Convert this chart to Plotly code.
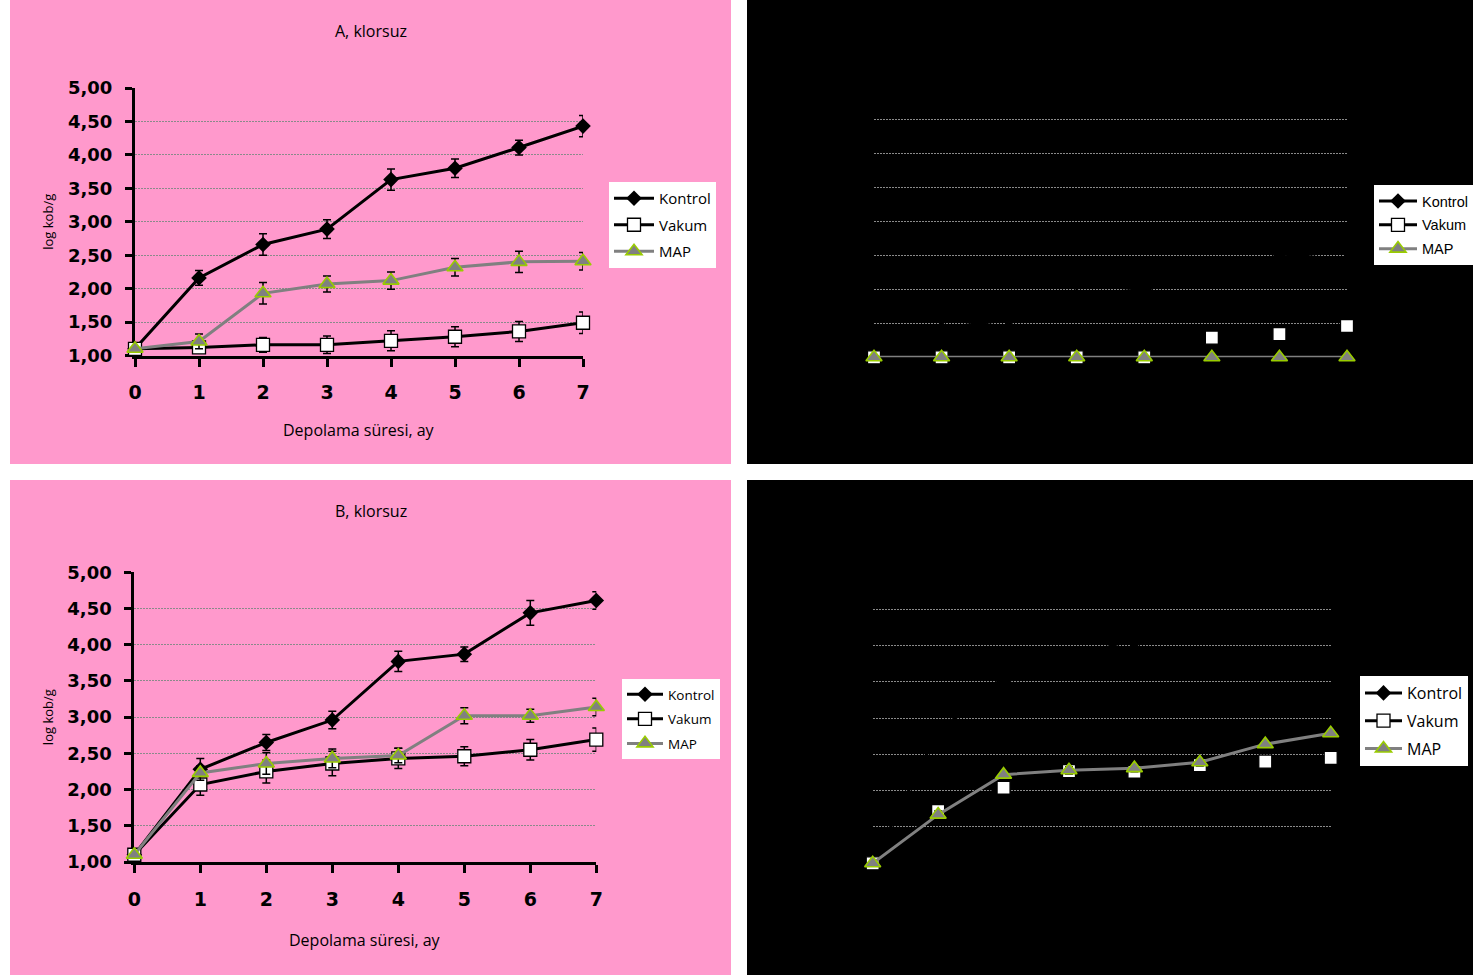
import plotly.graph_objects as go

W, H = 1473, 975

# Storage time (months)
months = [0, 1, 2, 3, 4, 5, 6, 7]

# Y axis ticks (log kob/g), decimal comma labels
y_ticks = [1.0, 1.5, 2.0, 2.5, 3.0, 3.5, 4.0, 4.5, 5.0]
y_tick_labels = ["1,00", "1,50", "2,00", "2,50", "3,00", "3,50", "4,00", "4,50", "5,00"]

series_names = ["Kontrol", "Vakum", "MAP"]
panel_titles = ["A, klorsuz", "A, klorlu", "B, klorsuz", "B, klorlu"]

# A, klorsuz
a_klorsuz_kontrol = [1.10, 2.16, 2.66, 2.89, 3.63, 3.80, 4.11, 4.43]
a_klorsuz_kontrol_err = [0.00, 0.11, 0.16, 0.14, 0.16, 0.14, 0.11, 0.16]
a_klorsuz_vakum = [1.10, 1.12, 1.16, 1.16, 1.22, 1.28, 1.36, 1.49]
a_klorsuz_vakum_err = [0.00, 0.05, 0.11, 0.13, 0.15, 0.15, 0.15, 0.16]
a_klorsuz_map = [1.10, 1.21, 1.93, 2.07, 2.12, 2.32, 2.40, 2.41]
a_klorsuz_map_err = [0.00, 0.11, 0.16, 0.12, 0.13, 0.13, 0.16, 0.13]

# A, klorlu
a_klorlu_kontrol = [1.00, 1.42, 1.56, 1.90, 2.00, 2.25, 2.47, 2.57]
a_klorlu_kontrol_err = [0.00, 0.10, 0.10, 0.05, 0.08, 0.10, 0.08, 0.10]
a_klorlu_vakum = [1.00, 1.00, 1.00, 1.00, 1.00, 1.29, 1.34, 1.46]
a_klorlu_vakum_err = [0.00, 0.00, 0.00, 0.00, 0.00, 0.03, 0.03, 0.03]
a_klorlu_map = [1.00, 1.00, 1.00, 1.00, 1.00, 1.00, 1.00, 1.00]
a_klorlu_map_err = [0.00, 0.00, 0.00, 0.00, 0.00, 0.00, 0.00, 0.00]

# B, klorsuz
b_klorsuz_kontrol = [1.10, 2.28, 2.65, 2.96, 3.77, 3.87, 4.44, 4.61]
b_klorsuz_kontrol_err = [0.00, 0.15, 0.11, 0.12, 0.14, 0.10, 0.17, 0.12]
b_klorsuz_vakum = [1.10, 2.07, 2.25, 2.36, 2.43, 2.46, 2.55, 2.69]
b_klorsuz_vakum_err = [0.00, 0.15, 0.16, 0.17, 0.14, 0.13, 0.14, 0.16]
b_klorsuz_map = [1.10, 2.23, 2.36, 2.43, 2.47, 3.02, 3.02, 3.14]
b_klorsuz_map_err = [0.00, 0.10, 0.15, 0.13, 0.10, 0.11, 0.09, 0.12]

# B, klorlu
b_klorlu_kontrol = [1.00, 2.82, 3.50, 3.79, 4.10, 4.15, 4.27, 4.36]
b_klorlu_kontrol_err = [0.00, 0.10, 0.10, 0.10, 0.10, 0.10, 0.10, 0.10]
b_klorlu_vakum = [1.00, 1.72, 2.04, 2.27, 2.26, 2.35, 2.40, 2.45]
b_klorlu_vakum_err = [0.00, 0.05, 0.05, 0.05, 0.05, 0.05, 0.05, 0.05]
b_klorlu_map = [1.00, 1.67, 2.22, 2.28, 2.31, 2.39, 2.64, 2.79]
b_klorlu_map_err = [0.00, 0.05, 0.05, 0.05, 0.05, 0.05, 0.05, 0.05]

PINK = "#FF99CC"
BLACK = "#000000"


def px_x(v):
    return v / W


def px_y(v):
    return 1 - v / H


# Panel geometry in pixels: background box, plot area, legend anchor
panels = [
    dict(bg=PINK, box=(10, 0, 731, 464), plot=(135, 88, 583, 355.5),
         legend=(609, 182), legend_font=dict(family="Open Sans", size=15),
         item_w=40, gap=4, xtitle_dy=74.5,
         data=[(a_klorsuz_kontrol, a_klorsuz_kontrol_err),
               (a_klorsuz_vakum, a_klorsuz_vakum_err),
               (a_klorsuz_map, a_klorsuz_map_err)]),
    dict(bg=BLACK, box=(747, 0, 1473, 464), plot=(874, 85.3, 1347, 357.3),
         legend=(1374, 185), legend_font=dict(family="Liberation Sans", size=14.5),
         item_w=38, gap=2, xtitle_dy=74.5,
         data=[(a_klorlu_kontrol, a_klorlu_kontrol_err),
               (a_klorlu_vakum, a_klorlu_vakum_err),
               (a_klorlu_map, a_klorlu_map_err)]),
    dict(bg=PINK, box=(10, 480, 731, 975), plot=(134.3, 572.3, 596.3, 862),
         legend=(622, 679), legend_font=dict(family="Open Sans", size=13.5),
         item_w=36, gap=4, xtitle_dy=78,
         data=[(b_klorsuz_kontrol, b_klorsuz_kontrol_err),
               (b_klorsuz_vakum, b_klorsuz_vakum_err),
               (b_klorsuz_map, b_klorsuz_map_err)]),
    dict(bg=BLACK, box=(747, 480, 1473, 975), plot=(872.7, 572.7, 1330.7, 863.3),
         legend=(1360, 676), legend_font=dict(family="Open Sans", size=16),
         item_w=37, gap=4, xtitle_dy=78,
         data=[(b_klorlu_kontrol, b_klorlu_kontrol_err),
               (b_klorlu_vakum, b_klorlu_vakum_err),
               (b_klorlu_map, b_klorlu_map_err)]),
]

styles = [
    dict(line=dict(color="black", width=3),
         marker=dict(symbol="diamond", size=12, color="black")),
    dict(line=dict(color="black", width=3),
         marker=dict(symbol="square", size=13, color="white",
                     line=dict(color="black", width=1.3))),
    dict(line=dict(color="#808080", width=3),
         marker=dict(symbol="triangle-up", size=14, color="#808080",
                     line=dict(color="#99CC00", width=1.6))),
]

fig = go.Figure()
layout = dict(
    template="none",
    width=W, height=H, autosize=False,
    margin=dict(l=0, r=0, t=0, b=0, pad=0, autoexpand=False),
    paper_bgcolor="white",
    plot_bgcolor="rgba(0,0,0,0)",
    showlegend=True,
    shapes=[], annotations=[],
)

for i, p in enumerate(panels):
    n = "" if i == 0 else str(i + 1)
    leg = "legend" if i == 0 else f"legend{i + 1}"
    x0, y0, x1, y1 = p["plot"]

    # panel background
    bx0, by0, bx1, by1 = p["box"]
    layout["shapes"].append(dict(
        type="rect", xref="paper", yref="paper", layer="below",
        x0=px_x(bx0), x1=px_x(bx1), y0=px_y(by1), y1=px_y(by0),
        fillcolor=p["bg"], line=dict(width=0)))

    for (vals, err), name, st in zip(p["data"], series_names, styles):
        fig.add_trace(go.Scatter(
            x=months, y=vals, name=name, mode="lines+markers",
            xaxis="x" + n, yaxis="y" + n, legend=leg, legendgroup=f"{name}{n}",
            line=st["line"], marker=st["marker"], cliponaxis=False,
            error_y=dict(type="data", array=err, color="black",
                         thickness=1.5, width=4),
        ))

    layout["xaxis" + n] = dict(
        domain=[px_x(x0), px_x(x1)], anchor="y" + n, range=[0, 7],
        tickvals=months, ticks="outside", ticklen=8, tickwidth=2.5,
        tickcolor="black", showline=True, linecolor="black", linewidth=3,
        showgrid=False, zeroline=False, ticklabelstandoff=10,
        automargin=False, layer="below traces",
        tickfont=dict(family="DejaVu Sans", size=19, color="black", weight="bold"),
    )
    layout["yaxis" + n] = dict(
        domain=[px_y(y1), px_y(y0)], anchor="x" + n, range=[1, 5],
        tickvals=y_ticks, ticktext=y_tick_labels, ticks="outside", ticklen=7,
        tickwidth=2.5, tickcolor="black", showline=True, linecolor="black",
        linewidth=3, showgrid=True, gridcolor="#8a8a8a", griddash="2px,1px",
        gridwidth=1, zeroline=False, ticklabelstandoff=9,
        automargin=False, layer="below traces",
        tickfont=dict(family="DejaVu Sans", size=18, color="black", weight="bold"),
    )
    layout[leg] = dict(
        x=px_x(p["legend"][0]), y=px_y(p["legend"][1]),
        xanchor="left", yanchor="top", bgcolor="white", borderwidth=0,
        font=dict(color="black", **p["legend_font"]),
        traceorder="grouped", tracegroupgap=p["gap"], itemwidth=p["item_w"],
    )

    # chart title and axis titles
    layout["annotations"] += [
        dict(text=panel_titles[i], xref="paper", yref="paper",
             x=px_x((bx0 + bx1) / 2), y=px_y(by0 + 31),
             xanchor="center", yanchor="middle", showarrow=False,
             font=dict(family="Open Sans", size=16, color="black")),
        dict(text="Depolama süresi, ay", xref="paper", yref="paper",
             x=px_x((x0 + x1) / 2), y=px_y(y1 + p["xtitle_dy"]),
             xanchor="center", yanchor="middle", showarrow=False,
             font=dict(family="Open Sans", size=16, color="black")),
        dict(text="log kob/g", xref="paper", yref="paper", textangle=-90,
             x=px_x(bx0 + 38), y=px_y((y0 + y1) / 2), xanchor="center",
             yanchor="middle", showarrow=False,
             font=dict(family="Open Sans", size=13, color="black")),
    ]

fig.update_layout(**layout)
fig.write_html("out.html")
